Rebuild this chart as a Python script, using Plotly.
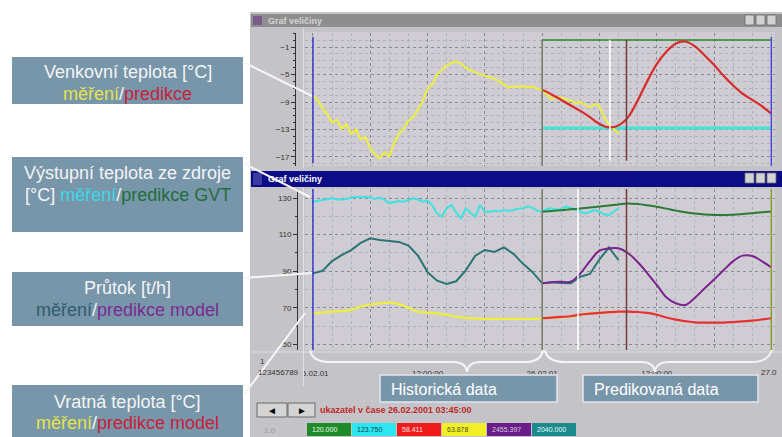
import pandas as pd
import plotly.graph_objects as go

W, H = 782, 437
FONT = "Liberation Sans, Arial, sans-serif"

# ---------------- data ----------------
T0 = pd.Timestamp("2001-02-25 00:00:00")
t_half_hour = pd.date_range(T0, periods=65, freq="30min")
t_hour = pd.date_range(T0, periods=33, freq="h")
t_forecast = pd.date_range("2001-02-26 00:00:00", periods=25, freq="h")

# outdoor temperature [°C]
outdoor_measured = [-8.0, -8.8, -9.9, -10.8, -12.0, -11.6, -12.9, -12.3, -13.6, -13.0,
                    -14.4, -14.1, -15.8, -16.6, -17.2, -16.3, -16.9, -15.0, -13.6, -12.9,
                    -11.7, -11.2, -10.1, -8.9, -7.0, -6.4, -5.0, -4.4, -3.7, -3.3,
                    -3.1, -3.4, -4.0, -4.4, -4.7, -5.0, -5.2, -5.4, -5.6, -6.0,
                    -6.4, -6.9, -6.7, -6.8, -6.7, -6.9, -6.8, -7.0, -7.3, -7.9,
                    -8.6, -8.2, -8.4, -8.6, -8.8, -9.2, -9.0, -9.4, -9.8, -9.3,
                    -9.6, -11.2, -12.4, -12.9, -13.6]
outdoor_forecast = [-7.2, -7.9, -8.7, -9.5, -10.3, -11.2, -12.2, -12.7, -12.4, -11.2,
                    -8.8, -6.0, -3.5, -1.7, -0.5, -0.2, -0.9, -2.2, -3.6, -5.2,
                    -6.6, -7.8, -8.7, -9.6, -10.7]
outdoor_limit = -12.8
forecast_frame_level = 0.0

# supply temperature [°C]
supply_measured = [128.0, 128.4, 128.9, 129.3, 129.8, 129.3, 129.0, 129.6, 130.2, 130.7,
                   130.4, 130.7, 130.3, 129.5, 130.3, 129.0, 127.1, 127.6, 128.3, 128.0,
                   128.9, 129.8, 129.2, 128.0, 128.6, 126.0, 121.5, 119.8, 124.4, 126.2,
                   122.0, 118.9, 124.4, 121.8, 119.8, 126.2, 122.5, 122.5, 123.0, 122.6,
                   123.4, 122.9, 123.4, 124.2, 124.4, 125.3, 124.6, 123.0, 122.5, 124.0,
                   124.4, 123.6, 124.0, 125.3, 124.5, 123.4, 122.5, 121.6, 122.5, 123.4,
                   122.5, 121.0, 120.7, 122.8, 124.4]
supply_forecast = [122.5, 122.9, 123.3, 123.8, 124.3, 124.8, 125.3, 125.9, 126.5, 127.0,
                   126.7, 126.0, 125.2, 124.2, 123.1, 122.2, 121.5, 121.0, 120.7, 120.7,
                   120.8, 121.2, 121.7, 122.2, 122.6]

# flow [t/h]
flow_measured = [88.8, 90.2, 95.5, 98.8, 101.5, 105.5, 108.0, 107.0, 106.5, 106.0,
                 104.0, 98.5, 89.5, 84.8, 83.0, 84.5, 90.5, 98.5, 101.6, 100.5,
                 103.0, 99.5, 94.0, 89.5, 83.4, 84.0, 83.5, 83.4, 87.0, 88.5,
                 96.5, 103.0, 96.0]
flow_forecast = [83.4, 84.0, 84.2, 84.3, 88.8, 95.5, 101.2, 102.5, 102.5, 99.8,
                 95.0, 89.0, 82.5, 75.8, 72.5, 71.5, 75.5, 80.5, 85.5, 90.5,
                 95.5, 98.5, 98.3, 95.5, 92.0]

# return temperature [°C]
return_measured = [67.0, 67.4, 67.9, 68.2, 68.9, 70.7, 71.8, 72.4, 72.8, 72.0,
                   70.0, 67.9, 67.4, 67.0, 66.1, 65.2, 64.5, 64.2, 64.0, 63.9,
                   63.9, 63.9, 63.9, 63.9, 64.3, 64.6, 64.9, 65.1, 66.3, 66.9,
                   67.3, 67.6, 67.9]
return_forecast = [64.3, 64.6, 65.0, 65.4, 66.3, 66.8, 67.2, 67.6, 67.9, 67.9,
                   67.7, 67.2, 66.2, 64.7, 63.5, 62.7, 62.0, 61.9, 61.9, 61.9,
                   62.2, 62.6, 63.0, 63.6, 64.3]

forecast_start = pd.Timestamp("2001-02-26 00:00:00")
forecast_end = pd.Timestamp("2001-02-27 00:00:00")
cursor_top = pd.Timestamp("2001-02-26 07:06:00")
cursor_bottom = pd.Timestamp("2001-02-26 03:45:00")
now_mark = pd.Timestamp("2001-02-26 08:50:00")

x_tick_times = pd.date_range(T0, periods=8, freq="6h")
x_tick_text = ["25.02.01", "", "12:00:00", "", "26.02.01", "", "12:00:00", ""]
x_last_label = "27.0"

readout_values = ["120.000", "123.750", "58.411", "63.878", "2455.397", "2040.000"]
readout_fill = ["#1f8a2a", "#2ee6f0", "#f01c1c", "#f2f028", "#6a1c88", "#1c8a8c"]
readout_text = ["#e8ffe8", "#104050", "#ffe0e0", "#505010", "#d8c8e0", "#e0ffff"]


# ---------------- helpers ----------------
def px(x):
    return x / W


def py(y):
    return 1 - y / H


shapes = []
annotations = []


def rect(x0, y0, x1, y1, fill, line=None, lw=0, layer="below"):
    shapes.append(dict(type="rect", xref="paper", yref="paper",
                       x0=px(x0), x1=px(x1), y0=py(y1), y1=py(y0),
                       fillcolor=fill, line=dict(color=line or fill, width=lw),
                       layer=layer))


def seg(x0, y0, x1, y1, color, w=1, layer="above"):
    shapes.append(dict(type="line", xref="paper", yref="paper",
                       x0=px(x0), x1=px(x1), y0=py(y0), y1=py(y1),
                       line=dict(color=color, width=w), layer=layer))


def path(cmds, color, w=2):
    out = []
    for c in cmds:
        if isinstance(c, str):
            out.append(c)
        else:
            out.append(f"{px(c[0]):.5f},{py(c[1]):.5f}")
    shapes.append(dict(type="path", xref="paper", yref="paper", path=" ".join(out),
                       line=dict(color=color, width=w), layer="above"))


def label(x, y, text, size=9, color="#333333", anchor="left", bold=False):
    if bold:
        text = f"<b>{text}</b>"
    annotations.append(dict(xref="paper", yref="paper", x=px(x), y=py(y), text=text,
                            showarrow=False, xanchor=anchor, yanchor="middle",
                            font=dict(family=FONT, size=size, color=color)))


def vmark(xref, yref, t, color, w=1.5, y0=0.0, y1=1.0):
    shapes.append(dict(type="line", xref=xref, yref=yref, x0=str(t), x1=str(t),
                       y0=y0, y1=y1, line=dict(color=color, width=w), layer="above"))


# ---------------- window chrome ----------------
WIN = "#c4c3c7"
PLOT_BG = "#cfcdd3"
rect(250, 12, 782, 437, WIN)
# top window
rect(251, 14, 782, 27, "#8e8e8e")
rect(253, 16, 262, 25, "#7a5a8a")
rect(305, 32, 775, 166, PLOT_BG)
seg(303.5, 28, 303.5, 168, "#dedede", 1, "below")
# bottom window
rect(251, 171, 782, 187, "#0c0c86")
rect(253, 173, 262, 185, "#3a3aa0")
rect(305, 189, 775, 350, PLOT_BG)
seg(251, 352, 782, 352, "#dedede", 1, "below")
for yt in (15, 173):
    for xb in (745, 756, 767):
        rect(xb, yt, xb + 9, yt + 10, "#d2d2d2", "#6a6a6a", 0.8, "above")

label(266, 20.5, "Graf veličiny", 9, "#d4d4d4", bold=True)
label(266, 179, "Graf veličiny", 9, "#ffffff", bold=True)

# left panel of the time axis row (hides the overhang of the first date label)
rect(251, 355, 303, 384, WIN, layer="above")
seg(303.5, 188, 303.5, 386, "#e2e2e2", 1, "above")
label(258, 361, "1", 8, "#333333")
label(256, 372, "123456789", 8, "#333333")
label(759, 372, x_last_label, 8, "#333333")

# buttons and cursor time
rect(257, 403, 287, 417, "#d4d4d4", "#6a6a6a", 1, "above")
rect(288, 403, 315, 417, "#d4d4d4", "#6a6a6a", 1, "above")
label(272, 410, "◄", 10, "#000000", "center")
label(301.5, 410, "►", 10, "#000000", "center")
label(318, 410, "ukazatel v čase 26.02.2001 03:45:00", 9, "#c02828", bold=True)

# value read-outs
label(262, 430, "1.0", 8, "#9a9a9a")
x_left = 307
for val, fc, tc in zip(readout_values, readout_fill, readout_text):
    rect(x_left, 423, x_left + 44, 436, fc, layer="above")
    label(x_left + 3, 429.5, val, 7, tc)
    x_left += 45

# brackets under the time axis
path(["M", (310, 350), "Q", (312, 362), (330, 362), "L", (453, 362),
      "Q", (466, 362), (467, 372), "Q", (468, 362), (481, 362), "L", (525, 362),
      "Q", (541, 362), (543, 350)], "#f4f4f4", 2)
path(["M", (545, 350), "Q", (547, 362), (565, 362), "L", (641, 362),
      "Q", (654, 362), (655, 372), "Q", (656, 362), (669, 362), "L", (752, 362),
      "Q", (768, 362), (772, 350)], "#f4f4f4", 2)

BOX = "#7896aa"
rect(380, 375, 557, 402, BOX, "#e4e6ee", 1.5, "above")
rect(583, 375, 758, 402, BOX, "#e4e6ee", 1.5, "above")
label(389, 389, "Historická data", 16, "#ffffff")
label(592, 389, "Predikovaná data", 16, "#ffffff")

# ---------------- left captions ----------------
YEL, RED, CYA, GRN, TEAL, PUR = "#e4e44a", "#c8203a", "#3ad8e8", "#1f6e3a", "#2e5c6c", "#7a2a92"
rect(12, 57, 243, 104, BOX, layer="above")
rect(12, 157, 243, 232, BOX, layer="above")
rect(12, 272, 243, 326, BOX, layer="above")
rect(12, 385, 243, 440, BOX, layer="above")


def sp(text, color):
    return f"<span style='color:{color}'>{text}</span>"


CAP = 18
label(127.5, 72, "Venkovní teplota [°C]", CAP, "#f4f4f4", "center")
label(127.5, 94, sp("měření", YEL) + "/" + sp("predikce", RED), CAP, "#f4f4f4", "center")
label(127.5, 173, "Výstupní teplota ze zdroje", CAP, "#f4f4f4", "center")
label(127.5, 195, "[°C] " + sp("měření", CYA) + "/" + sp("predikce GVT", GRN), CAP, "#f4f4f4", "center")
label(127.5, 288, "Průtok [t/h]", CAP, "#f4f4f4", "center")
label(127.5, 310, sp("měření", TEAL) + "/" + sp("predikce model", PUR), CAP, "#f4f4f4", "center")
label(127.5, 402, "Vratná teplota [°C]", CAP, "#f4f4f4", "center")
label(127.5, 423, sp("měření", YEL) + "/" + sp("predikce model", RED), CAP, "#f4f4f4", "center")

# connector lines from captions to the curves
seg(243, 62, 312, 96, "#f6f6f6", 2)
seg(243, 163, 310, 197, "#f6f6f6", 2)
seg(243, 278, 312, 273, "#f6f6f6", 2)
seg(243, 396, 305, 313, "#f6f6f6", 2)

# ---------------- marker lines inside the plots ----------------
vmark("x", "y domain", T0, "#3a3ad2", 1.5, 0.02, 0.97)
vmark("x", "y domain", forecast_start, "#7a7a6a", 1.5, 0.0, 0.95)
vmark("x", "y domain", cursor_top, "#ffffff", 1.5, 0.04, 0.95)
vmark("x", "y domain", now_mark, "#6e3c3c", 1.5, 0.04, 0.95)
vmark("x", "y domain", forecast_end, "#4a4ad8", 1.5, 0.0, 0.97)
vmark("x2", "y2 domain", T0, "#3a3ad2", 1.5, 0.0, 1.0)
vmark("x2", "y2 domain", forecast_start, "#7a7a6a", 1.5, 0.0, 1.0)
vmark("x2", "y2 domain", cursor_bottom, "#ffffff", 1.5, 0.0, 1.0)
vmark("x2", "y2 domain", now_mark, "#6e3c3c", 1.5, 0.0, 1.0)
vmark("x2", "y2 domain", forecast_end, "#8a9a30", 1.5, 0.0, 1.0)

# ---------------- traces ----------------
fig = go.Figure()
frame_x = [forecast_start, forecast_end]

# top: outdoor temperature
fig.add_trace(go.Scatter(x=frame_x, y=[outdoor_limit, outdoor_limit], mode="lines",
                         line=dict(color="#3ee6dc", width=3), xaxis="x", yaxis="y"))
fig.add_trace(go.Scatter(x=frame_x, y=[forecast_frame_level, forecast_frame_level], mode="lines",
                         line=dict(color="#2a8a2a", width=1.5), xaxis="x", yaxis="y"))
fig.add_trace(go.Scatter(x=t_half_hour, y=outdoor_measured, mode="lines",
                         line=dict(color="#eeee3c", width=2), xaxis="x", yaxis="y"))
fig.add_trace(go.Scatter(x=t_forecast, y=outdoor_forecast, mode="lines", line_shape="spline",
                         line=dict(color="#d82a2a", width=2.2), xaxis="x", yaxis="y"))

# bottom: return temperature, flow, supply temperature
fig.add_trace(go.Scatter(x=t_hour, y=return_measured, mode="lines", line_shape="spline",
                         line=dict(color="#eeee3c", width=2.2), xaxis="x2", yaxis="y2"))
fig.add_trace(go.Scatter(x=t_forecast, y=return_forecast, mode="lines", line_shape="spline",
                         line=dict(color="#e83030", width=2.2), xaxis="x2", yaxis="y2"))
fig.add_trace(go.Scatter(x=t_hour, y=flow_measured, mode="lines",
                         line=dict(color="#2a7476", width=2), xaxis="x2", yaxis="y2"))
fig.add_trace(go.Scatter(x=t_forecast, y=flow_forecast, mode="lines", line_shape="spline",
                         line=dict(color="#7a2290", width=2), xaxis="x2", yaxis="y2"))
fig.add_trace(go.Scatter(x=t_half_hour, y=supply_measured, mode="lines",
                         line=dict(color="#3ee2e2", width=2), xaxis="x2", yaxis="y2"))
fig.add_trace(go.Scatter(x=t_forecast, y=supply_forecast, mode="lines", line_shape="spline",
                         line=dict(color="#2a7a36", width=2), xaxis="x2", yaxis="y2"))

# ---------------- axes ----------------
x_range = [str(T0 - pd.Timedelta(minutes=50)), str(T0 + pd.Timedelta(minutes=48 * 60 + 23))]
grid_major = "#8a8a92"
grid_minor = "#b2b0b8"
common_x = dict(type="date", range=x_range, domain=[px(305), px(775)], automargin=False,
                tickmode="array", tickvals=[str(t) for t in x_tick_times],
                showgrid=True, gridcolor=grid_major, griddash="dot", gridwidth=1,
                zeroline=False, showline=False,
                minor=dict(dtick=2 * 3600 * 1000, tick0=str(T0), showgrid=True,
                           gridcolor=grid_minor, griddash="dot", gridwidth=1))
axis_font = dict(family=FONT, size=8, color="#333333")

fig.update_layout(
    width=W, height=H, margin=dict(l=0, r=0, t=0, b=0, autoexpand=False),
    paper_bgcolor="#ffffff", plot_bgcolor="rgba(0,0,0,0)",
    showlegend=False,
    xaxis=dict(common_x, anchor="y", showticklabels=False, ticks=""),
    yaxis=dict(domain=[py(166), py(33)], range=[-18.31, 1.036], anchor="free",
               position=px(295), automargin=False, tick0=-1, dtick=4, ticks="outside", ticklen=4,
               tickcolor="#333333", showline=True, linecolor="#333333", linewidth=1,
               showgrid=True, gridcolor=grid_major, griddash="dot", zeroline=False,
               tickfont=axis_font,
               minor=dict(dtick=1, tick0=-1, ticks="outside", ticklen=2,
                          tickcolor="#333333", showgrid=True, gridcolor=grid_minor,
                          griddash="dot")),
    xaxis2=dict(common_x, anchor="y2", ticktext=x_tick_text, ticks="outside",
                ticklen=15, tickcolor="rgba(0,0,0,0)", tickfont=axis_font),
    yaxis2=dict(domain=[py(350), py(189)], range=[46.94, 134.92], anchor="free",
                position=px(297), automargin=False, tick0=50, dtick=20, ticks="outside", ticklen=4,
                tickcolor="#333333", showline=True, linecolor="#333333", linewidth=1,
                showgrid=True, gridcolor=grid_major, griddash="dot", zeroline=False,
                tickfont=axis_font,
                minor=dict(dtick=10, tick0=50, ticks="outside", ticklen=2,
                           tickcolor="#333333", showgrid=True, gridcolor=grid_minor,
                           griddash="dot")),
    shapes=shapes,
    annotations=annotations,
)

fig.write_html("out.html")
